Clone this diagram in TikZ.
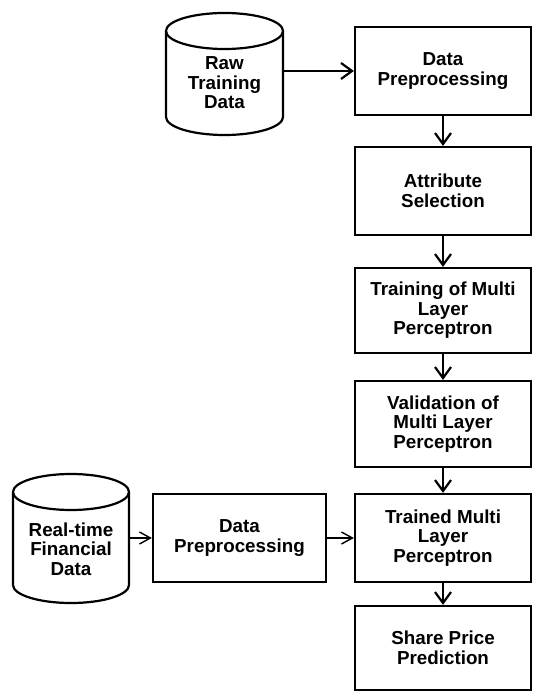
\documentclass[tikz,border=0pt]{standalone}
\usepackage{fontspec}
\setmainfont{Liberation Sans}
\usetikzlibrary{arrows.meta}
\begin{document}
\begin{tikzpicture}[x=1pt,y=-1pt,
  lbl/.style={font=\fontsize{18.8}{19.5}\selectfont\bfseries, align=center, inner sep=0pt},
  procbox/.style={lbl, draw, line width=2.2pt, minimum width=176pt},
  cylbox/.style={inner sep=0pt},
  thickarr/.style={line width=2.2pt, -{Straight Barb[length=11pt,width=16pt,line width=2.2pt]}},
  thinarr/.style={line width=1.4pt, -{Straight Barb[length=11pt,width=12pt,line width=1.4pt]}},
  cylline/.style={line width=2.2pt}
]
\useasboundingbox (0,0) rectangle (533,692);

% right column boxes
\node[procbox, minimum height=88pt] (dp1) at (443,71) {Data\\Preprocessing};
\node[procbox, minimum height=88pt] (attr) at (443,191) {Attribute\\Selection};
\node[procbox, minimum height=85pt] (train) at (443,310.5) {Training of Multi\\Layer\\Perceptron};
\node[procbox, minimum height=86pt] (valid) at (443,424) {Validation of\\Multi Layer\\Perceptron};
\node[procbox, minimum height=88pt] (trained) at (443,538) {Trained Multi\\Layer\\Perceptron};
\node[procbox, minimum height=84pt] (share) at (443,648) {Share Price\\Prediction};

% left data preprocessing
\node[procbox, minimum width=173pt, minimum height=88pt] (dp2) at (239.5,538) {Data\\Preprocessing};

% cylinder 1
\node[cylbox, minimum width=117pt, minimum height=122pt] (raw) at (224.5,74) {};
\draw[cylline] (166,31) -- (166,117) arc (180:360:58.5pt and 18pt) -- (283,31);
\draw[cylline] (224.5,31) ellipse (58.5pt and 18pt);
\node[lbl] (rawlbl) at (224.5,83) {Raw\\Training\\Data};

% cylinder 2
\node[cylbox, minimum width=116pt, minimum height=129pt] (real) at (71,538.5) {};
\draw[cylline] (13,492) -- (13,585) arc (180:360:58pt and 18pt) -- (129,492);
\draw[cylline] (71,492) ellipse (58pt and 18pt);
\node[lbl] (reallbl) at (71,549) {Real-time\\Financial\\Data};

% connectors
\draw[thickarr] (raw.east |- dp1.west) -- (dp1.west);
\draw[thickarr] (dp1.south) -- (attr.north);
\draw[thickarr] (attr.south) -- (train.north);
\draw[thickarr] (train.south) -- (valid.north);
\draw[thickarr] (valid.south) -- (trained.north);
\draw[thickarr] (trained.south) -- (share.north);
\draw[thinarr] (real.east |- dp2.west) -- (dp2.west);
\draw[thinarr] (dp2.east) -- (trained.west);
\end{tikzpicture}
\end{document}
